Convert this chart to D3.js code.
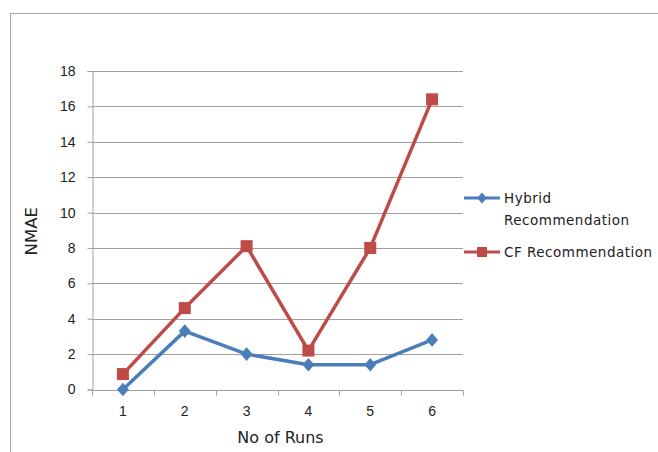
<!DOCTYPE html>
<html>
<head>
<meta charset="utf-8">
<script src="https://cdn.jsdelivr.net/npm/d3@7"></script>
<style>
  html, body { margin: 0; padding: 0; background: #fff; }
  svg { display: block; font-family: "DejaVu Sans", "Liberation Sans", sans-serif; }
  .tick text { font-size: 14px; }
</style>
</head>
<body>
<svg id="chart" width="658" height="452"></svg>
<script>
// Runs on the x axis
const runs = [1, 2, 3, 4, 5, 6];
// NMAE per run for each method
const hybridValues = [0, 3.3, 2.0, 1.4, 1.4, 2.8];
const cfValues = [0.87, 4.6, 8.1, 2.2, 8.0, 16.4];
const yTicks = [0, 2, 4, 6, 8, 10, 12, 14, 16, 18];
const seriesNames = ["Hybrid Recommendation", "CF Recommendation"];

const svg = d3.select("#chart");
const plot = { left: 92, right: 463, top: 71, bottom: 389.5 };

// Chart frame
svg.append("rect")
  .attr("x", 10.5).attr("y", 13.5)
  .attr("width", 700).attr("height", 500)
  .attr("fill", "#fff").attr("stroke", "#a6a6a6").attr("stroke-width", 1);

const x = d3.scaleBand().domain(runs).range([plot.left, plot.right]);
const y = d3.scaleLinear().domain([0, 18]).range([plot.bottom, plot.top]);

// Horizontal gridlines
svg.append("g")
  .selectAll("line")
  .data(yTicks.filter(d => d > 0))
  .join("line")
  .attr("x1", plot.left).attr("x2", plot.right)
  .attr("y1", d => Math.round(y(d)) + 0.5).attr("y2", d => Math.round(y(d)) + 0.5)
  .attr("stroke", "#a0a0a0").attr("stroke-width", 1);

// Y axis
const yAxis = svg.append("g")
  .attr("transform", `translate(${plot.left + 0.5},0)`)
  .call(d3.axisLeft(y).tickValues(yTicks).tickSize(5).tickPadding(12).tickFormat(d3.format("d")));
yAxis.attr("font-size", null);
yAxis.select(".domain").attr("stroke", "#a0a0a0");
yAxis.selectAll(".tick line").attr("stroke", "#a0a0a0");
yAxis.selectAll(".tick text").attr("fill", "#222");

// X axis
const xAxis = svg.append("g")
  .attr("transform", `translate(0,${Math.round(plot.bottom) + 0.5})`)
  .call(d3.axisBottom(x).tickSize(0).tickPadding(16));
xAxis.attr("font-size", null);
xAxis.select(".domain").attr("stroke", "#a0a0a0").attr("d", `M${plot.left},0H${plot.right}`);
xAxis.selectAll(".tick text").attr("fill", "#222");
// Category boundary ticks
xAxis.append("g")
  .selectAll("line")
  .data(runs.map(r => x(r)).concat([plot.right]))
  .join("line")
  .attr("x1", d => Math.round(d) + 0.5).attr("x2", d => Math.round(d) + 0.5)
  .attr("y1", 0).attr("y2", 5)
  .attr("stroke", "#a0a0a0");

// Axis titles
svg.append("text")
  .attr("transform", `translate(37,${(plot.top + plot.bottom) / 2 + 1}) rotate(-90)`)
  .attr("text-anchor", "middle")
  .attr("fill", "#222").style("font-size", "16.5px")
  .text("NMAE");
svg.append("text")
  .attr("x", (plot.left + plot.right) / 2 + 3).attr("y", 443)
  .attr("text-anchor", "middle")
  .attr("fill", "#222").style("font-size", "16px")
  .text("No of Runs");

const cx = d => x(d) + x.bandwidth() / 2;
const line = d3.line().x(d => cx(d.run)).y(d => y(d.v));

const blue = "#4a7ebb", red = "#be4b48";
const diamond = d3.symbol().type(d3.symbolDiamond2).size(90);

const hybrid = runs.map((r, i) => ({ run: r, v: hybridValues[i] }));
const cf = runs.map((r, i) => ({ run: r, v: cfValues[i] }));

// CF series
svg.append("path").datum(cf)
  .attr("d", line).attr("fill", "none")
  .attr("stroke", red).attr("stroke-width", 3.5).attr("stroke-linejoin", "round");
svg.append("g").selectAll("rect").data(cf).join("rect")
  .attr("x", d => cx(d.run) - 6).attr("y", d => y(d.v) - 6)
  .attr("width", 12).attr("height", 12).attr("fill", red);

// Hybrid series
svg.append("path").datum(hybrid)
  .attr("d", line).attr("fill", "none")
  .attr("stroke", blue).attr("stroke-width", 3.5).attr("stroke-linejoin", "round");
svg.append("g").selectAll("path").data(hybrid).join("path")
  .attr("transform", d => `translate(${cx(d.run)},${y(d.v)}) scale(1,1.15)`)
  .attr("d", diamond).attr("fill", blue);

// Legend
const legend = svg.append("g");
const legY = [198, 252];
legend.append("line").attr("x1", 464).attr("x2", 500).attr("y1", legY[0]).attr("y2", legY[0])
  .attr("stroke", blue).attr("stroke-width", 3);
legend.append("path").attr("transform", `translate(482,${legY[0]}) scale(1,1.15)`)
  .attr("d", d3.symbol().type(d3.symbolDiamond2).size(60)).attr("fill", blue);
legend.append("line").attr("x1", 464).attr("x2", 500).attr("y1", legY[1]).attr("y2", legY[1])
  .attr("stroke", red).attr("stroke-width", 3);
legend.append("rect").attr("x", 477).attr("y", legY[1] - 5).attr("width", 10).attr("height", 10)
  .attr("fill", red);

const hybridWords = seriesNames[0].split(" ");
const t1 = legend.append("text").attr("x", 504).attr("y", legY[0] + 5)
  .attr("fill", "#222").style("font-size", "13.5px").style("letter-spacing", "0.5px");
t1.append("tspan").attr("x", 504).text(hybridWords[0]);
t1.append("tspan").attr("x", 504).attr("dy", 22).text(hybridWords[1]);
legend.append("text").attr("x", 504).attr("y", legY[1] + 5)
  .attr("fill", "#222").style("font-size", "13.5px").style("letter-spacing", "0.5px")
  .text(seriesNames[1]);
</script>
</body>
</html>
